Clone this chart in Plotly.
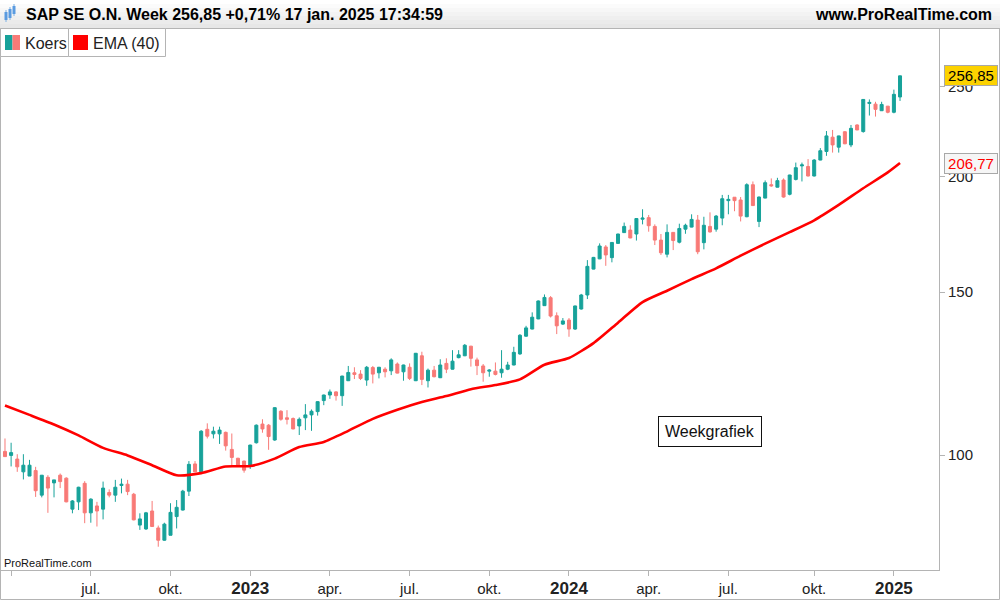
import math
import pandas as pd
import plotly.graph_objects as go

# weekly bars, SAP SE O.N., week of 28 mar 2022 -> week of 13 jan 2025
weeks = pd.date_range("2022-03-28", periods=147, freq="7D")

opens = [100.9, 99.9, 99.0, 95.9, 94.9, 96.2, 90.5, 94.6, 93.3, 95.1,
         94.4, 87.4, 89.0, 93.2, 86.6, 88.1, 87.4, 91.1, 90.5, 92.7,
         93.0, 90.7, 84.0, 83.2, 87.0, 83.4, 80.9, 81.9, 85.8, 87.2,
         91.4, 97.8, 95.9, 106.6, 105.4, 105.4, 105.8, 101.4, 99.2, 98.5,
         97.3, 103.1, 108.0, 107.7, 103.8, 111.5, 109.7, 109.5, 107.5, 109.7,
         110.5, 111.4, 114.5, 116.1, 117.0, 115.9, 120.3, 122.7, 122.3, 120.5,
         124.3, 122.7, 123.8, 123.3, 125.4, 123.0, 124.4, 120.3, 128.0, 120.3,
         123.5, 121.2, 125.6, 123.8, 127.4, 128.0, 131.1, 126.7, 124.8, 123.2,
         123.2, 122.7, 123.8, 125.1, 128.6, 134.4, 136.8, 140.3, 145.0, 147.9,
         141.4, 138.5, 139.9, 136.8, 143.8, 148.9, 158.8, 162.9, 167.8, 163.4,
         169.3, 173.9, 175.0, 173.3, 179.8, 180.5, 176.6, 170.7, 164.8, 174.0,
         169.8, 175.4, 176.3, 179.4, 169.6, 176.6, 175.4, 180.3, 188.3, 189.9,
         188.6, 180.9, 195.9, 178.8, 189.5, 195.9, 194.7, 198.2, 191.3, 198.5,
         205.3, 205.0, 200.2, 208.3, 212.8, 220.5, 215.1, 223.5, 216.3, 227.3,
         223.6, 239.8, 239.4, 235.5, 238.2, 234.6, 243.7]
highs = [104.2, 103.1, 100.2, 100.2, 98.8, 97.1, 95.1, 95.1, 94.0, 95.5,
         94.6, 89.4, 92.4, 93.7, 89.8, 89.0, 93.6, 91.8, 94.0, 94.3,
         94.0, 91.0, 86.5, 86.8, 89.2, 83.9, 84.5, 88.7, 89.4, 91.7,
         98.5, 98.5, 106.4, 108.2, 107.3, 107.3, 106.0, 105.5, 99.3, 98.6,
         102.6, 107.9, 109.3, 108.0, 112.6, 111.8, 111.8, 109.8, 109.8, 113.5,
         112.0, 114.3, 116.2, 117.7, 117.2, 121.8, 124.8, 124.4, 123.5, 124.8,
         124.8, 124.5, 124.4, 127.2, 125.9, 125.2, 125.6, 128.9, 129.3, 124.0,
         124.8, 126.9, 127.2, 129.8, 129.8, 131.8, 131.2, 127.4, 125.4, 123.8,
         125.9, 129.8, 126.1, 130.9, 135.1, 137.9, 142.6, 146.9, 149.1, 148.5,
         142.6, 140.6, 140.6, 145.0, 149.3, 162.4, 163.7, 169.3, 168.6, 169.8,
         173.4, 178.3, 177.1, 180.2, 184.3, 181.7, 177.5, 173.3, 177.5, 174.1,
         177.8, 177.8, 182.0, 181.7, 180.9, 182.9, 181.7, 191.0, 191.0, 190.0,
         190.0, 196.6, 197.5, 190.2, 198.0, 199.0, 199.3, 199.0, 200.8, 207.0,
         207.0, 208.8, 208.8, 214.6, 223.9, 224.5, 221.3, 223.9, 227.3, 227.7,
         242.4, 242.2, 240.8, 240.8, 238.3, 248.2, 257.0]
lows = [99.6, 97.2, 95.9, 94.1, 94.9, 90.1, 90.0, 86.6, 90.0, 92.1,
        88.9, 86.5, 87.2, 84.4, 84.5, 83.7, 85.2, 90.0, 89.0, 90.9,
        90.5, 85.0, 83.0, 83.0, 83.6, 79.6, 80.8, 81.9, 83.3, 87.1,
        90.3, 95.9, 95.8, 104.2, 104.2, 102.8, 101.1, 97.3, 97.2, 95.7,
        96.6, 102.9, 105.7, 101.3, 103.6, 108.9, 107.9, 106.6, 105.1, 106.4,
        106.2, 110.3, 113.2, 115.0, 114.5, 113.0, 120.2, 120.8, 120.5, 118.8,
        119.5, 121.0, 121.3, 122.0, 122.5, 120.3, 120.5, 120.2, 119.0, 118.3,
        121.3, 121.1, 122.6, 123.7, 127.2, 127.9, 124.6, 122.0, 120.0, 121.5,
        121.9, 121.2, 123.5, 125.0, 128.3, 134.2, 136.7, 140.2, 144.9, 140.8,
        135.1, 138.2, 134.2, 136.5, 143.6, 147.4, 158.7, 162.8, 160.1, 161.5,
        169.2, 173.8, 171.5, 170.5, 177.5, 174.3, 168.6, 164.5, 163.5, 166.5,
        169.3, 173.4, 176.2, 164.8, 166.8, 173.9, 174.3, 177.1, 182.0, 183.4,
        178.8, 180.7, 185.9, 176.3, 189.4, 194.9, 194.6, 189.7, 190.8, 198.0,
        197.5, 200.0, 200.0, 208.2, 210.5, 212.2, 212.2, 216.7, 215.1, 224.4,
        223.0, 232.7, 232.1, 235.4, 234.0, 234.0, 241.3]
closes = [99.6, 100.6, 97.1, 97.5, 97.5, 91.5, 95.1, 92.1, 94.0, 93.6,
          89.0, 89.2, 92.3, 86.6, 89.6, 87.0, 92.1, 90.5, 92.3, 93.0,
          91.3, 85.1, 85.3, 86.6, 83.7, 80.9, 84.2, 86.7, 87.8, 91.4,
          97.7, 95.9, 106.1, 104.8, 106.1, 106.4, 102.3, 99.4, 97.4, 96.3,
          102.5, 107.7, 106.7, 104.7, 112.5, 109.3, 109.3, 106.7, 109.3, 110.5,
          111.5, 114.2, 116.1, 117.0, 115.9, 121.7, 122.8, 122.2, 121.0, 124.4,
          122.3, 124.4, 123.0, 126.7, 122.6, 125.1, 121.0, 128.8, 120.7, 123.5,
          121.5, 125.1, 123.8, 126.3, 128.3, 131.4, 127.2, 124.9, 122.7, 123.5,
          122.2, 123.8, 125.1, 129.1, 134.7, 137.2, 140.9, 146.7, 148.0, 141.3,
          137.9, 139.6, 136.8, 144.9, 148.9, 159.9, 163.5, 168.2, 164.5, 169.7,
          173.3, 176.6, 171.6, 180.1, 180.3, 176.9, 170.7, 165.4, 174.0, 170.5,
          175.7, 177.1, 179.7, 165.8, 177.1, 174.2, 181.2, 189.2, 188.9, 188.3,
          181.2, 195.9, 186.0, 190.0, 196.9, 195.4, 197.9, 190.0, 200.7, 204.4,
          205.8, 200.2, 208.3, 213.2, 221.2, 216.3, 221.2, 216.9, 225.4, 224.5,
          242.2, 240.4, 236.3, 239.2, 234.6, 245.3, 256.85]

# EMA(40) read every 4th week (plus last bar)
ema_idx = list(range(0, 145, 4)) + [146]
ema40 = [113.1, 110.5, 107.9, 105.0, 101.8, 99.9, 97.5, 95.1, 95.6, 97.2,
         97.3, 99.1, 102.0, 103.3, 106.2, 109.4, 111.9, 114.1, 115.8, 117.8,
         119.0, 120.7, 125.2, 127.3, 132.1, 139.0, 146.3, 150.5, 154.9, 159.1,
         164.2, 169.2, 174.1, 179.3, 186.3, 194.2, 202.0, 206.77]

tick_dates = ["2022-04-04", "2022-07-04", "2022-10-03", "2023-01-02", "2023-04-03",
              "2023-07-03", "2023-10-02", "2024-01-01", "2024-04-01", "2024-07-01",
              "2024-10-07", "2025-01-06"]
tick_text = ["", "jul.", "okt.", "2023", "apr.", "jul.", "okt.", "2024",
             "apr.", "jul.", "okt.", "2025"]
y_ticks = [100, 150, 200, 250]

UP = "#17a29a"
DOWN = "#f87a77"
GREY = "#b4b4b4"
NARROW = "Liberation Sans Narrow, Arial Narrow, Liberation Sans, Arial, sans-serif"
ARIAL = "Liberation Sans, Arial, sans-serif"


# pixel helpers for the decorations (plot area is x 0..939, y 29..570)
def px(x):
    return x / 939.0


def py(y):
    return (570.0 - y) / 541.0


fig = go.Figure()

fig.add_trace(go.Candlestick(
    x=weeks, open=opens, high=highs, low=lows, close=closes,
    increasing=dict(line=dict(color=UP, width=1), fillcolor=UP),
    decreasing=dict(line=dict(color=DOWN, width=1), fillcolor=DOWN),
    whiskerwidth=0, name="Koers", showlegend=False))

fig.add_trace(go.Scatter(
    x=weeks[ema_idx], y=ema40, mode="lines", name="EMA (40)",
    line=dict(color="#ff0000", width=2.6, shape="spline", smoothing=0.6),
    showlegend=False, hoverinfo="skip"))

ticktext = []
for t in tick_text:
    if t.isdigit():
        ticktext.append("<b><span style='font-size:17px'>" + t + "</span></b>")
    else:
        ticktext.append(t)

x0 = weeks[0] - pd.Timedelta(days=5.7)
x1 = weeks[-1] + pd.Timedelta(days=44.5)

shapes = []
# outer frame
shapes.append(dict(type="rect", xref="paper", yref="paper", x0=px(0.5), x1=px(999.5),
                   y0=py(599.5), y1=py(0.5), line=dict(color=GREY, width=1),
                   fillcolor="rgba(0,0,0,0)", layer="above"))
# header bar
for k, c in enumerate(["#ffffff", "#fbfbfb", "#f7f7f7", "#f3f3f3", "#efefef", "#ebebeb", "#e7e7e7"]):
    shapes.append(dict(type="rect", xref="paper", yref="paper", x0=px(0), x1=px(1000),
                       y0=py(4 * k + 4), y1=py(4 * k), line=dict(width=0), fillcolor=c,
                       layer="above"))
shapes.append(dict(type="line", xref="paper", yref="paper", x0=px(0), x1=px(1000),
                   y0=py(28.5), y1=py(28.5), line=dict(color=GREY, width=1), layer="above"))
# header icon
for xi, y0, y1 in [(6, 12, 20), (10, 9, 18), (14, 6, 14)]:
    shapes.append(dict(type="line", xref="paper", yref="paper", x0=px(xi), x1=px(xi),
                       y0=py(y1 + 2), y1=py(y0 - 2), line=dict(color="#7fb2e5", width=1),
                       layer="above"))
    shapes.append(dict(type="rect", xref="paper", yref="paper", x0=px(xi - 1.5), x1=px(xi + 1.5),
                       y0=py(y1), y1=py(y0), line=dict(width=0), fillcolor="#5a9be0",
                       layer="above"))
# legend boxes
shapes.append(dict(type="rect", xref="paper", yref="paper", x0=px(0.5), x1=px(68.5),
                   y0=py(56.5), y1=py(28.5), line=dict(color=GREY, width=1),
                   fillcolor="white", layer="above"))
shapes.append(dict(type="rect", xref="paper", yref="paper", x0=px(68.5), x1=px(165.5),
                   y0=py(56.5), y1=py(28.5), line=dict(color=GREY, width=1),
                   fillcolor="white", layer="above"))
shapes.append(dict(type="rect", xref="paper", yref="paper", x0=px(5), x1=px(12.5),
                   y0=py(50), y1=py(35), line=dict(width=0), fillcolor=UP, layer="above"))
shapes.append(dict(type="rect", xref="paper", yref="paper", x0=px(12.5), x1=px(20),
                   y0=py(50), y1=py(35), line=dict(width=0), fillcolor=DOWN, layer="above"))
shapes.append(dict(type="rect", xref="paper", yref="paper", x0=px(73), x1=px(88),
                   y0=py(50), y1=py(35), line=dict(width=0), fillcolor="#ff0000", layer="above"))
# small ticks for the last values on the price scale
shapes.append(dict(type="line", xref="paper", yref="y", x0=px(939), x1=px(945),
                   y0=math.log10(closes[-1]), y1=math.log10(closes[-1]),
                   line=dict(color="black", width=1)))
shapes.append(dict(type="line", xref="paper", yref="y", x0=px(939), x1=px(945),
                   y0=math.log10(ema40[-1]), y1=math.log10(ema40[-1]),
                   line=dict(color="#ff0000", width=1)))

annotations = [
    dict(xref="paper", yref="paper", x=px(24), y=py(15), xanchor="left", yanchor="middle",
         text="<b>SAP SE O.N. Week 256,85 +0,71% 17 jan. 2025 17:34:59</b>",
         showarrow=False, font=dict(family=ARIAL, size=16, color="#000")),
    dict(xref="paper", yref="paper", x=px(994), y=py(15), xanchor="right", yanchor="middle",
         text="<b>www.ProRealTime.com</b>", showarrow=False,
         font=dict(family=ARIAL, size=16, color="#000")),
    dict(xref="paper", yref="paper", x=px(23), y=py(43), xanchor="left", yanchor="middle",
         text="Koers", showarrow=False, font=dict(family=ARIAL, size=16, color="#222")),
    dict(xref="paper", yref="paper", x=px(91), y=py(43), xanchor="left", yanchor="middle",
         text="EMA (40)", showarrow=False, font=dict(family=ARIAL, size=16, color="#222")),
    dict(xref="paper", yref="paper", x=px(2), y=py(563), xanchor="left", yanchor="middle",
         text="ProRealTime.com", showarrow=False,
         font=dict(family=NARROW, size=11, color="#111")),
    dict(xref="paper", yref="paper", x=px(710), y=py(431), xanchor="center", yanchor="middle",
         text="Weekgrafiek", showarrow=False, bgcolor="white", bordercolor="#111",
         borderwidth=1, borderpad=6, font=dict(family=ARIAL, size=16, color="#111")),
    dict(xref="paper", yref="y", x=px(944), y=math.log10(closes[-1]), xanchor="left",
         yanchor="middle", text="256,85", showarrow=False, bgcolor="#fcd200",
         bordercolor="#a8a8a8", borderwidth=1, borderpad=1, width=50,
         font=dict(family=ARIAL, size=15, color="#000")),
    dict(xref="paper", yref="y", x=px(944), y=math.log10(ema40[-1]), xanchor="left",
         yanchor="middle", text="206,77", showarrow=False, bgcolor="#f6f6f6",
         bordercolor="#a8a8a8", borderwidth=1, borderpad=1, width=50,
         font=dict(family=ARIAL, size=15, color="#ff0000")),
]

fig.update_layout(
    width=1000, height=600,
    margin=dict(l=0, r=61, t=29, b=30),
    paper_bgcolor="white", plot_bgcolor="white",
    showlegend=False,
    shapes=shapes, annotations=annotations,
    xaxis=dict(type="date", range=[x0, x1], rangeslider=dict(visible=False),
               tickvals=tick_dates, ticktext=ticktext, ticks="outside", ticklen=5,
               tickcolor=GREY, showline=True, linecolor=GREY, showgrid=False,
               zeroline=False, tickfont=dict(family=NARROW, size=15, color="#222")),
    yaxis=dict(type="log", side="right", range=[math.log10(75.12), math.log10(288.6)],
               tickvals=y_ticks, ticktext=[str(v) for v in y_ticks], ticks="outside",
               ticklen=5, tickcolor=GREY, showline=True, linecolor=GREY, showgrid=False,
               zeroline=False, tickfont=dict(family=ARIAL, size=15, color="#222")),
)

# the page's default body margin would shift the chart by 8px
fig.write_html("out.html", config={"displayModeBar": False},
               post_script="document.body.style.margin='0';")
